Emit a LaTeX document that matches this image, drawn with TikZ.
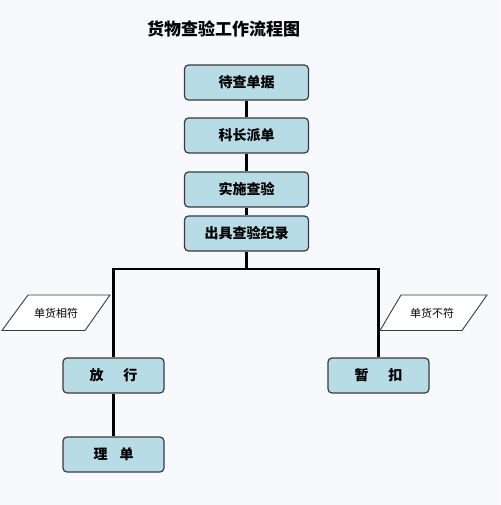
\documentclass[tikz,border=0pt]{standalone}
\usepackage{fontspec}
\newfontfamily\cjk{Noto Sans CJK SC}
\usetikzlibrary{positioning}
\definecolor{bgc}{HTML}{F7F9FC}
\definecolor{boxfill}{HTML}{B8DCE6}
\definecolor{boxline}{HTML}{3A3A3A}
\tikzset{
  stepbox/.style={draw=boxline, line width=1.2pt, fill=boxfill, rounded corners=4pt,
    minimum width=124pt, minimum height=35pt, inner sep=0pt,
    font=\cjk\bfseries\fontsize{14}{16}\selectfont},
  smallbox/.style={stepbox, minimum width=101pt},
  conn/.style={line width=2.6pt, black},
  para/.style={draw=boxline, line width=0.9pt, fill=white},
  paratext/.style={font=\cjk\fontsize{11}{13}\selectfont}
}
\begin{document}
\begin{tikzpicture}[x=1pt,y=-1pt]
\useasboundingbox[fill=bgc] (0,0) rectangle (500,505);
\node[font=\cjk\bfseries\fontsize{17}{19}\selectfont] (title) at (223.5,29) {货物查验工作流程图};
\node[stepbox] (b1) at (246.5,82.5) {待查单据};
\node[stepbox] (b2) at (246.5,135.5) {科长派单};
\node[stepbox] (b3) at (246.5,189.5) {实施查验};
\node[stepbox] (b4) at (246.5,233.5) {出具查验纪录};
\node[smallbox] (fx) at (113.5,375.5) {放\hspace{20pt}行};
\node[smallbox] (ld) at (113.5,454.5) {理\hspace{12pt}单};
\node[smallbox] (zk) at (378.5,375.5) {暂\hspace{20pt}扣};
\coordinate (j) at (246.5,269);
\draw[conn] (b1) -- (b2);
\draw[conn] (b2) -- (b3);
\draw[conn] (b3) -- (b4);
\draw[conn] (b4) -- (j);
\draw[conn] (fx.north) |- (j) -| (zk.north);
\draw[conn] (fx) -- (ld);
% parallelograms
\draw[para] (28,295) -- (110,295) -- (85,330.5) -- (2,330.5) -- cycle;
\node[paratext] (p1) at (56,313) {单货相符};
\draw[para] (401,295) -- (487,295) -- (462,330.5) -- (380,330.5) -- cycle;
\node[paratext] (p2) at (432,313) {单货不符};
\end{tikzpicture}
\end{document}
